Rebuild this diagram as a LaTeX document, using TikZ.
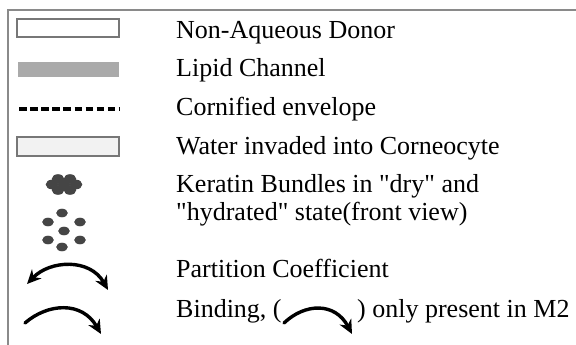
\documentclass[tikz,border=0pt]{standalone}
\usepackage{fontspec}
\setmainfont{Liberation Serif}[Ligatures=TeXOff]
\usetikzlibrary{arrows.meta}
\definecolor{framegray}{HTML}{8A8A8A}
\definecolor{boxgray}{HTML}{777777}
\definecolor{bargray}{HTML}{AAAAAA}
\definecolor{waterfill}{HTML}{F2F2F2}
\definecolor{keratin}{HTML}{454545}
\begin{document}
\begin{tikzpicture}[x=1pt,y=-1pt,
  lbl/.style={anchor=base west, inner sep=0pt, font=\fontsize{26}{30}\selectfont},
  legbox/.style={draw=boxgray, line width=1.4pt},
  blob/.style={fill=keratin, draw=none},
  curvearrow/.style={line width=3.4pt, line cap=round,
     arrows={-Stealth[length=14pt,width=13pt,inset=4.5pt]}},
  dcurvearrow/.style={line width=3.4pt,
     arrows={Stealth[length=14pt,width=13pt,inset=4.5pt]-Stealth[length=14pt,width=13pt,inset=4.5pt]}}]
\useasboundingbox (0,0) rectangle (576,345);
% frame
\draw[framegray, line width=2pt] (576,10) -- (8,10) -- (8,345);
% symbols
\draw[legbox, fill=white] (17,19) rectangle (119,37);
\fill[bargray] (18,62) rectangle (119,77);
\draw[line width=4.3pt, dash pattern=on 7.5pt off 3.6pt] (19,109) -- (120,109);
\draw[legbox, fill=waterfill] (17,137) rectangle (119,156);
% keratin dry bundle
\foreach \x/\y in {58/179,70/179,52/184.5,64/184.5,76/184.5,58/190,70/190}
  \fill[blob] (\x,\y) ellipse[x radius=6.3pt, y radius=4.8pt];
% keratin hydrated
\foreach \x/\y in {62/213,48/222,80/222,64/231,48/240,80/240,62/247}
  \fill[blob] (\x,\y) ellipse[x radius=5.8pt, y radius=4.3pt];
% partition coefficient arrow
\coordinate (pa) at (27,284);
\coordinate (pb) at (108,290);
\draw[dcurvearrow] (pa) .. controls (50,260) and (90,258) .. (pb);
% binding arrow
\coordinate (ba) at (25,323);
\coordinate (bb) at (101,334);
\draw[curvearrow] (ba) .. controls (48,303) and (82,301) .. (bb);
% labels
\node[lbl] (t1) at (176,39) {Non-Aqueous Donor};
\node[lbl] (t2) at (176,77) {Lipid Channel};
\node[lbl] (t3) at (176,115) {Cornified envelope};
\node[lbl] (t4) at (176,154) {Water invaded into Corneocyte};
\node[lbl] (t5) at (176,192) {Keratin Bundles in "dry" and};
\node[lbl] (t6) at (176,220) {"hydrated" state(front view)};
\node[lbl] (t7) at (176,277) {Partition Coefficient};
\node[lbl] (t8) at (176,317) {Binding, (};
\node[lbl] (t9) at (357,317) {) only present in M2};
% inline binding arrow
\coordinate (ia) at (284,323);
\coordinate (ib) at (352,334);
\draw[curvearrow] (ia) .. controls (305,303) and (335,302) .. (ib);
\end{tikzpicture}
\end{document}
